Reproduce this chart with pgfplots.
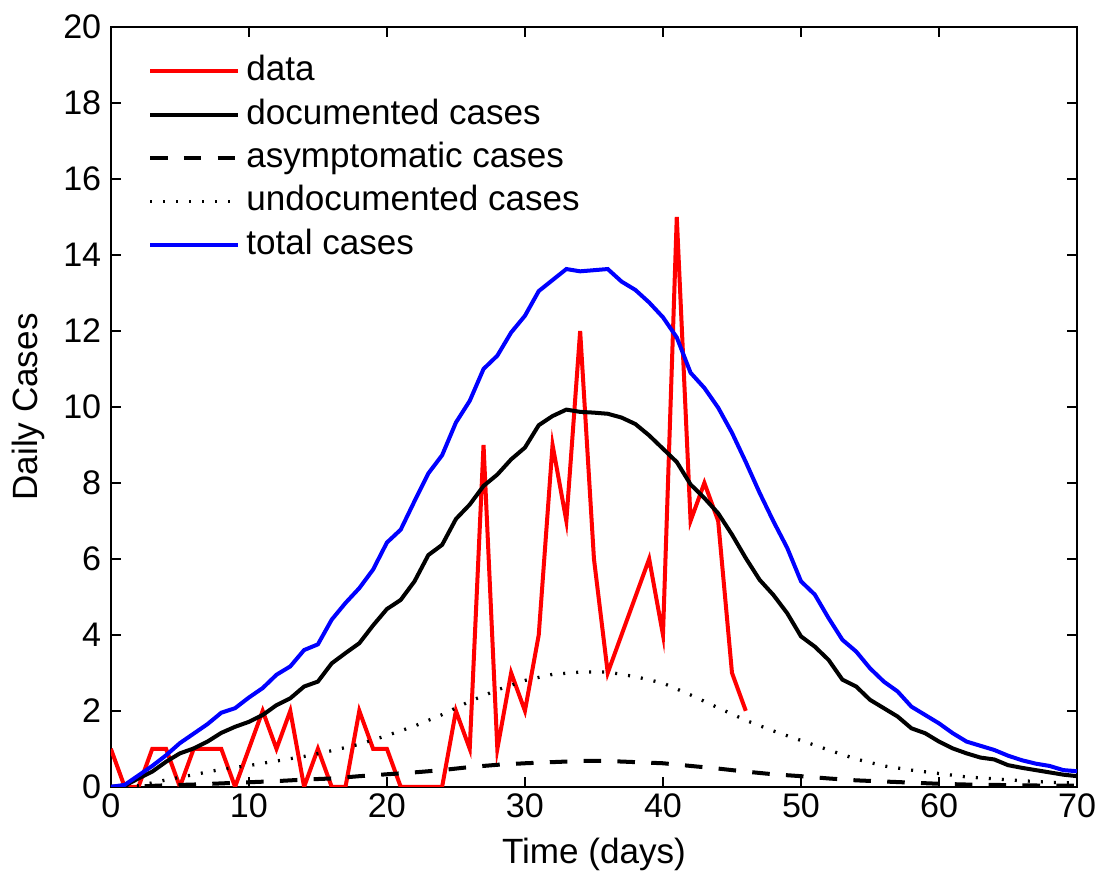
\documentclass[border=0pt]{standalone}
\usepackage{fontspec}
\setmainfont{Liberation Sans}
\usepackage{pgfplots}
\pgfplotsset{compat=1.18}
\begin{document}
\fontsize{14}{17}\selectfont
\begin{tikzpicture}
\begin{axis}[
  scale only axis=true,
  width=385.6pt, height=303.2pt,
  xmin=0, xmax=70, ymin=0, ymax=20,
  xtick={0,10,...,70}, ytick={0,2,...,20},
  tick align=inside,
  major tick length=4pt,
  axis line style={line width=0.8pt},
  every tick/.style={black, line width=0.8pt},
  /pgf/number format/assume math mode=true,
  ticklabel style={font=\fontsize{13.6}{16}\selectfont},
  xticklabel style={inner xsep=0pt, yshift=2.3pt},
  yticklabel style={inner ysep=0pt, xshift=1pt},
  xlabel={Time (days)}, ylabel={Daily Cases},
  label style={font=\fontsize{14}{17}\selectfont},
  xlabel style={inner ysep=1.5pt, yshift=-1.9pt},
  ylabel style={yshift=-2pt},
  legend cell align=left,
  legend style={draw=none, fill=none, at={(0.038,0.968)}, anchor=north west,
    inner sep=0pt, row sep=1.8pt, font=\fontsize{14}{17}\selectfont,
    nodes={inner ysep=1pt, inner xsep=2.6pt, text height=10.5pt, text depth=3pt}},
  legend image code/.code={\draw[#1] (0pt,0pt) -- (35pt,0pt);},
]
\addplot[red, line width=1.6pt] coordinates {
(0,1)(1,0)(2,0)(3,1)(4,1)(5,0)(6,1)(7,1)(8,1)(9,0)(10,1)(11,2)(12,1)(13,2)(14,0)(15,1)(16,0)(17,0)(18,2)(19,1)(20,1)(21,0)(22,0)(23,0)(24,0)(25,2)(26,1)(27,9)(28,1)(29,3)(30,2)(31,4)(32,9)(33,7)(34,12)(35,6)(36,3)(37,4)(38,5)(39,6)(40,4)(41,15)(42,7)(43,8)(44,7)(45,3)(46,2)
};
\addlegendentry{data}
\addplot[black, line width=1.6pt] coordinates {
(0,0)(1,0.03)(2,0.22)(3,0.4)(4,0.66)(5,0.88)(6,1.01)(7,1.19)(8,1.42)(9,1.58)(10,1.71)(11,1.89)(12,2.15)(13,2.33)(14,2.64)(15,2.77)(16,3.25)(17,3.52)(18,3.78)(19,4.25)(20,4.68)(21,4.92)(22,5.41)(23,6.1)(24,6.37)(25,7.05)(26,7.43)(27,7.92)(28,8.22)(29,8.62)(30,8.93)(31,9.52)(32,9.76)(33,9.93)(34,9.87)(35,9.85)(36,9.82)(37,9.72)(38,9.55)(39,9.25)(40,8.9)(41,8.55)(42,7.96)(43,7.6)(44,7.2)(45,6.64)(46,6.02)(47,5.45)(48,5.05)(49,4.57)(50,3.96)(51,3.69)(52,3.34)(53,2.82)(54,2.64)(55,2.29)(56,2.07)(57,1.85)(58,1.54)(59,1.41)(60,1.19)(61,1.01)(62,0.88)(63,0.77)(64,0.72)(65,0.57)(66,0.5)(67,0.44)(68,0.38)(69,0.32)(70,0.28)
};
\addlegendentry{documented cases}
\addplot[black, line width=1.6pt, dash pattern=on 7pt off 6.5pt] coordinates {
(0,0)(2,0.01)(4,0.04)(6,0.06)(8,0.09)(10,0.12)(12,0.15)(14,0.19)(16,0.22)(18,0.28)(20,0.33)(22,0.38)(24,0.44)(26,0.52)(28,0.58)(30,0.62)(32,0.65)(34,0.68)(36,0.68)(38,0.65)(40,0.62)(42,0.55)(44,0.48)(46,0.4)(48,0.33)(50,0.28)(52,0.22)(54,0.17)(56,0.14)(58,0.11)(60,0.08)(62,0.06)(64,0.05)(66,0.04)(68,0.03)(70,0.03)
};
\addlegendentry{asymptomatic cases}
\addplot[black, line width=1.3pt, dash pattern=on 0.8pt off 4.4pt] coordinates {
(0,0)(2,0.03)(4,0.18)(6,0.32)(8,0.46)(10,0.56)(12,0.68)(14,0.8)(16,0.95)(18,1.12)(20,1.35)(22,1.6)(24,1.9)(26,2.25)(28,2.55)(30,2.8)(32,2.96)(34,3.02)(36,3.02)(38,2.9)(40,2.73)(42,2.42)(44,2.08)(46,1.75)(48,1.47)(50,1.22)(52,0.97)(54,0.73)(56,0.55)(58,0.44)(60,0.35)(62,0.26)(64,0.21)(66,0.16)(68,0.12)(70,0.1)
};
\addlegendentry{undocumented cases}
\addplot[blue, line width=1.6pt] coordinates {
(0,0)(1,0.05)(2,0.3)(3,0.55)(4,0.83)(5,1.15)(6,1.4)(7,1.65)(8,1.95)(9,2.07)(10,2.35)(11,2.6)(12,2.95)(13,3.17)(14,3.6)(15,3.75)(16,4.4)(17,4.84)(18,5.23)(19,5.72)(20,6.43)(21,6.77)(22,7.52)(23,8.25)(24,8.73)(25,9.59)(26,10.16)(27,11.0)(28,11.35)(29,11.96)(30,12.4)(31,13.05)(32,13.34)(33,13.63)(34,13.57)(35,13.6)(36,13.63)(37,13.3)(38,13.08)(39,12.75)(40,12.36)(41,11.83)(42,10.9)(43,10.5)(44,9.98)(45,9.32)(46,8.55)(47,7.74)(48,6.99)(49,6.29)(50,5.41)(51,5.06)(52,4.44)(53,3.87)(54,3.56)(55,3.12)(56,2.77)(57,2.51)(58,2.11)(59,1.89)(60,1.67)(61,1.41)(62,1.19)(63,1.08)(64,0.97)(65,0.82)(66,0.7)(67,0.61)(68,0.55)(69,0.44)(70,0.41)
};
\addlegendentry{total cases}
\end{axis}
\path (0pt,314pt);
\end{tikzpicture}
\end{document}
